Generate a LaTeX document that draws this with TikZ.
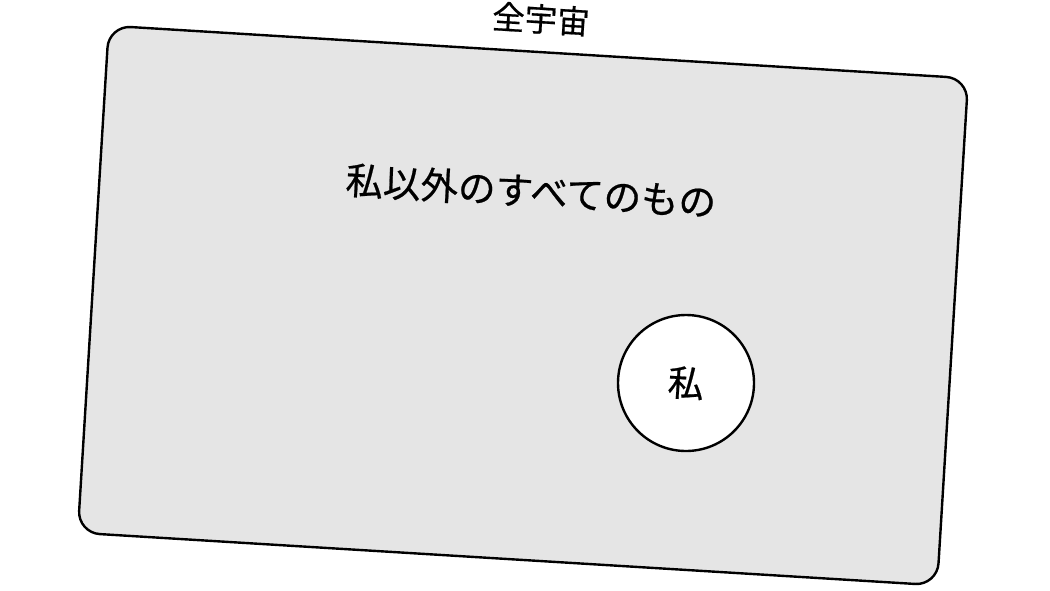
\documentclass[tikz,border=0pt]{standalone}
\usepackage{fontspec}
\setmainfont{Noto Sans CJK JP}[FakeBold=0.6]
\usepackage{tikz}

\begin{document}
\begin{tikzpicture}[x=1pt, y=-1pt, line width=2.4pt]
\useasboundingbox (0,0) rectangle (1050,590);
% The whole universe
    \node[draw, fill=black!10, rounded corners=22pt, minimum width=861pt, minimum height=508pt, rotate=-3.5] (universe) at (523,305.5) {};
    \node[rotate=-3.5, font=\fontsize{32.5}{36}\selectfont] (universelabel) at (541,19) {全宇宙};
% Everything except me
    \node[rotate=-3.5, font=\fontsize{37.5}{40}\selectfont] (others) at (531,191) {私以外のすべてのもの};
% Me
    \node[draw, fill=white, circle, minimum size=136pt, inner sep=0pt] (me) at (686,383) {};
    \node[rotate=-3.5, font=\fontsize{36}{40}\selectfont] (melabel) at (me) {私};
\end{tikzpicture}
\end{document}
